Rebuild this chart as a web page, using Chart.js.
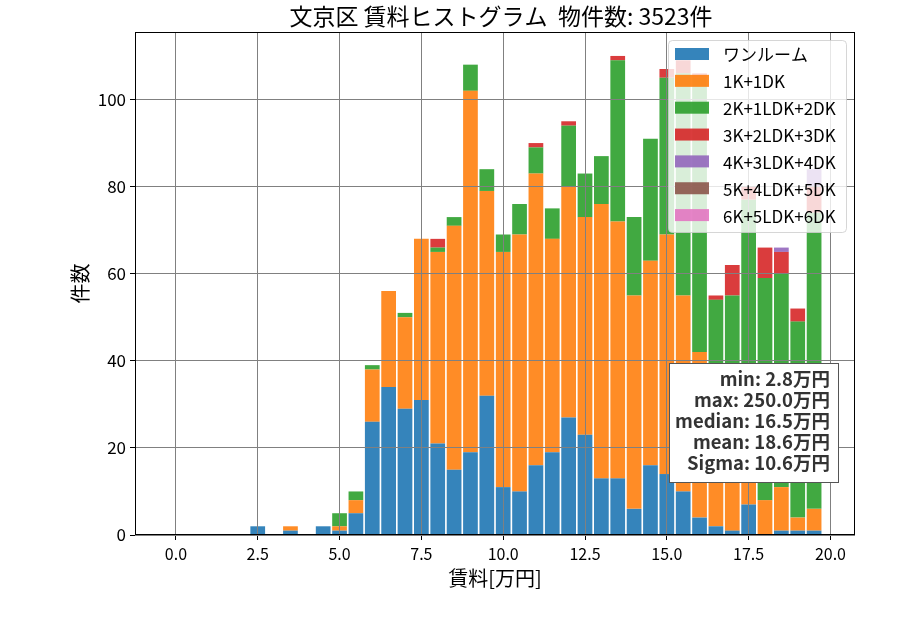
<!DOCTYPE html>
<html>
<head>
<meta charset="utf-8">
<script src="https://cdn.jsdelivr.net/npm/chart.js@4/dist/chart.umd.min.js"></script>
<style>
  html, body { margin: 0; padding: 0; background: #fff; }
  #wrap { width: 900px; height: 630px; }
</style>
</head>
<body>
<div id="wrap"><canvas id="c" width="900" height="630"></canvas></div>
<script>
// ---- data ----
const titleText = '文京区 賃料ヒストグラム  物件数: 3523件';
const xLabel = '賃料[万円]';
const yLabel = '件数';
const bins = [0.0, 0.5, 1.0, 1.5, 2.0, 2.5, 3.0, 3.5, 4.0, 4.5,
              5.0, 5.5, 6.0, 6.5, 7.0, 7.5, 8.0, 8.5, 9.0, 9.5,
              10.0, 10.5, 11.0, 11.5, 12.0, 12.5, 13.0, 13.5, 14.0, 14.5,
              15.0, 15.5, 16.0, 16.5, 17.0, 17.5, 18.0, 18.5, 19.0, 19.5];
const oneRoom = [0,0,0,0,0, 2,0,1,0,2, 1,5,26,34,29, 31,21,15,19,32, 11,10,16,19,27, 23,13,13,6,16, 14,10,4,2,1, 7,0,1,1,1];
const k1dk    = [0,0,0,0,0, 0,0,1,0,0, 1,3,12,22,21, 37,44,56,83,47, 54,59,67,49,53, 50,63,59,49,47, 55,45,38,24,21, 11,8,10,3,5];
const k2ldk   = [0,0,0,0,0, 0,0,0,0,0, 3,2,1,0,1, 0,1,2,6,5, 4,7,6,7,14, 10,11,37,18,28, 36,51,63,28,33, 59,51,49,45,68];
const k3ldk   = [0,0,0,0,0, 0,0,0,0,0, 0,0,0,0,0, 0,2,0,0,0, 0,0,1,0,1, 0,0,1,0,0, 2,3,1,1,7, 3,7,5,3,6];
const k4ldk   = [0,0,0,0,0, 0,0,0,0,0, 0,0,0,0,0, 0,0,0,0,0, 0,0,0,0,0, 0,0,0,0,0, 0,0,0,0,0, 0,0,1,0,4];
const k5ldk   = [0,0,0,0,0, 0,0,0,0,0, 0,0,0,0,0, 0,0,0,0,0, 0,0,0,0,0, 0,0,0,0,0, 0,0,0,0,0, 0,0,0,0,0];
const k6ldk   = [0,0,0,0,0, 0,0,0,0,0, 0,0,0,0,0, 0,0,0,0,0, 0,0,0,0,0, 0,0,0,0,0, 0,0,0,0,0, 0,0,0,0,0];
const seriesNames = ['ワンルーム', '1K+1DK', '2K+1LDK+2DK', '3K+2LDK+3DK', '4K+3LDK+4DK', '5K+4LDK+5DK', '6K+5LDK+6DK'];
const seriesValues = [oneRoom, k1dk, k2ldk, k3ldk, k4ldk, k5ldk, k6ldk];
const xTicks = [0.0, 2.5, 5.0, 7.5, 10.0, 12.5, 15.0, 17.5, 20.0];
const yTicks = [0, 20, 40, 60, 80, 100];
const statsLines = ['min: 2.8万円', 'max: 250.0万円', 'median: 16.5万円', 'mean: 18.6万円', 'Sigma: 10.6万円'];

// ---- styles ----
const FONT = "'Noto Sans CJK JP', 'Noto Sans', sans-serif";
const colors = ['rgba(31,119,180,0.9)', 'rgba(255,127,14,0.9)', 'rgba(44,160,44,0.9)',
                'rgba(214,39,40,0.9)', 'rgba(148,103,189,0.9)', 'rgba(140,86,75,0.9)', 'rgba(227,119,194,0.9)'];

const datasets = seriesNames.map((name, s) => ({
  label: name,
  data: bins.map((b, i) => ({ x: b, y: seriesValues[s][i] })),
  backgroundColor: colors[s],
  borderWidth: 0,
  barPercentage: 0.9,
  categoryPercentage: 1.0
}));

const decor = {
  id: 'decor',
  afterDraw(chart) {
    const ctx = chart.ctx;
    const a = chart.chartArea;
    ctx.save();
    // frame
    ctx.strokeStyle = '#000';
    ctx.lineWidth = 1;
    ctx.strokeRect(Math.round(a.left) + 0.5, Math.round(a.top) + 0.5,
                   Math.round(a.right - a.left) - 1, Math.round(a.bottom - a.top) - 1);

    // legend
    const lx = 668, ly = 40, lw = 178, lh = 192;
    ctx.beginPath();
    if (ctx.roundRect) ctx.roundRect(lx + 0.5, ly + 0.5, lw, lh, 4); else ctx.rect(lx + 0.5, ly + 0.5, lw, lh);
    ctx.fillStyle = 'rgba(255,255,255,0.8)';
    ctx.fill();
    ctx.strokeStyle = 'rgba(204,204,204,0.8)';
    ctx.stroke();
    ctx.font = '17px ' + FONT;
    ctx.textBaseline = 'middle';
    ctx.textAlign = 'left';
    seriesNames.forEach((name, i) => {
      const cy = 54 + i * 26.85;
      ctx.fillStyle = colors[i];
      ctx.fillRect(675, cy - 6, 34, 12);
      ctx.fillStyle = '#000';
      ctx.fillText(name, 723, cy + 1);
    });

    // stats box
    const bx = 669, by = 363, bw = 169, bh = 119;
    ctx.fillStyle = '#fff';
    ctx.fillRect(bx, by, bw, bh);
    ctx.strokeStyle = '#555';
    ctx.strokeRect(bx + 0.5, by + 0.5, bw, bh);
    ctx.font = 'bold 18.5px ' + FONT;
    ctx.fillStyle = '#333';
    ctx.textAlign = 'right';
    statsLines.forEach((t, i) => {
      ctx.fillText(t, 830, 379 + i * 21);
    });

    // title
    ctx.fillStyle = '#000';
    ctx.textAlign = 'center';
    ctx.font = '23px ' + FONT;
    ctx.fillText(titleText, 501, 16);

    // axis titles
    ctx.font = '20px ' + FONT;
    ctx.fillText(xLabel, (a.left + a.right) / 2, 578);
    ctx.save();
    ctx.translate(80, (a.top + a.bottom) / 2);
    ctx.rotate(-Math.PI / 2);
    ctx.fillText(yLabel, 0, 0);
    ctx.restore();
    ctx.restore();
  }
};

new Chart(document.getElementById('c'), {
  type: 'bar',
  data: { datasets },
  options: {
    responsive: false,
    animation: false,
    devicePixelRatio: 1,
    layout: { padding: { top: 32, right: 45, left: 0, bottom: 0 } },
    plugins: { legend: { display: false }, title: { display: false }, tooltip: { enabled: false } },
    scales: {
      x: {
        type: 'linear',
        stacked: true,
        offset: false,
        min: -1.25,
        max: 20.75,
        afterFit: (s) => { s.height = 95; },
        afterBuildTicks: (s) => { s.ticks = xTicks.map(v => ({ value: v })); },
        ticks: {
          font: { size: 16, family: FONT },
          color: '#000',
          padding: 4,
          maxRotation: 0,
          autoSkip: false,
          callback: (v) => Number(v).toFixed(1)
        },
        grid: { color: '#808080', lineWidth: 1, tickLength: 5, tickColor: '#000', z: 1, offset: false },
        border: { display: false }
      },
      y: {
        type: 'linear',
        stacked: true,
        min: 0,
        max: 115.5,
        afterFit: (s) => { s.width = 135; },
        afterBuildTicks: (s) => { s.ticks = yTicks.map(v => ({ value: v })); },
        ticks: {
          font: { size: 17, family: FONT },
          color: '#000',
          padding: 4,
          autoSkip: false
        },
        grid: { color: '#808080', lineWidth: 1, tickLength: 5, tickColor: '#000', z: 1 },
        border: { display: false }
      }
    }
  },
  plugins: [decor]
});
</script>
</body>
</html>
